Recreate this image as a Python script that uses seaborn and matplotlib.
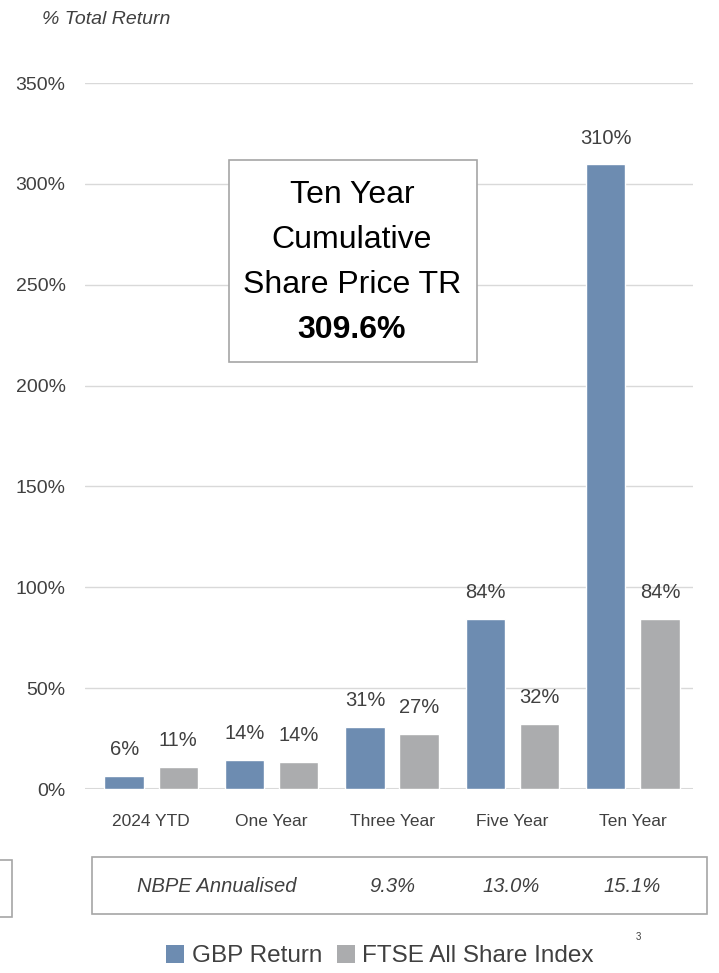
import matplotlib
matplotlib.use("Agg")
import matplotlib.pyplot as plt
import seaborn as sns
import pandas as pd
from matplotlib import font_manager
from matplotlib.patches import Rectangle, Patch

categories = ["2024 YTD", "One Year", "Three Year", "Five Year", "Ten Year"]
gbp_return = [6.4, 14.3, 30.8, 84.3, 309.6]
ftse_return = [11.0, 13.6, 27.2, 32.4, 84.2]
series_names = ["GBP Return", "FTSE All Share Index"]
yticks = [0, 50, 100, 150, 200, 250, 300, 350]
annual_label = "NBPE Annualised"
annual_values = ["9.3%", "13.0%", "15.1%"]
box_lines = ["Ten Year", "Cumulative", "Share Price TR", "309.6%"]

sns.set_theme(style="white")
avail = {f.name for f in font_manager.fontManager.ttflist}
narrow = "Liberation Sans Narrow" if "Liberation Sans Narrow" in avail else "Liberation Sans"
plt.rcParams["font.family"] = [narrow, "DejaVu Sans"]

TXT = "#404040"
C_GBP = "#6D8CB1"
C_FTSE = "#ABACAE"

df = pd.DataFrame({
    "Period": categories * 2,
    "Return": gbp_return + ftse_return,
    "Series": [series_names[0]] * len(categories) + [series_names[1]] * len(categories),
})

W, H = 719, 973
fig = plt.figure(figsize=(W / 100, H / 100), dpi=100)
ax = fig.add_axes([85 / W, 1 - 789 / H, (693 - 85) / W, (789 - 83) / H])

sns.barplot(data=df, x="Period", y="Return", hue="Series", order=categories,
            hue_order=series_names, palette=[C_GBP, C_FTSE], width=0.9, gap=0.27,
            ax=ax, legend=False, saturation=1)

ax.set_ylim(0, 350)
ax.set_xlim(-0.55, 4.5)
ax.set_yticks(yticks)
ax.set_yticklabels([f"{v}%" for v in yticks], fontsize=14, color=TXT)
ax.tick_params(axis="x", labelsize=12.5, labelcolor=TXT, length=0, pad=18)
ax.tick_params(axis="y", length=0, pad=14)
for lbl in ax.get_yticklabels():
    lbl.set_horizontalalignment("right")
ax.set_xlabel("")
ax.set_ylabel("")
for v in yticks[1:]:
    ax.axhline(v, color="#D9D9D9", lw=1, zorder=0)
ax.axhline(0, color="#D9D9D9", lw=1.5, zorder=0)
for s in ax.spines.values():
    s.set_visible(False)

for cont in ax.containers:
    ax.bar_label(cont, labels=[f"{v:.0f}%" for v in cont.datavalues],
                 padding=12, fontsize=14.5, color=TXT)

fig.text(42 / W, 1 - 19 / H, "% Total Return", fontsize=14, style="italic",
         color=TXT, ha="left", va="center")

# Annotation box
fig.patches.append(Rectangle((229 / W, 1 - 362 / H), (477 - 229) / W, (362 - 160) / H,
                             transform=fig.transFigure, fill=True, facecolor="white",
                             edgecolor="#A6A6A6", lw=1.2, zorder=5))
ys = [195, 240, 285, 330]
for i, (t, y) in enumerate(zip(box_lines, ys)):
    fig.text(352 / W, 1 - y / H, t, fontsize=23, color="black", ha="center", va="center",
             fontweight="bold" if i == 3 else "normal", zorder=6)

# Annualised table
fig.patches.append(Rectangle((92 / W, 1 - 914 / H), (707 - 92) / W, (914 - 857) / H,
                             transform=fig.transFigure, fill=False,
                             edgecolor="#A6A6A6", lw=1.2))
fig.patches.append(Rectangle((-5 / W, 1 - 917 / H), 17 / W, (917 - 860) / H,
                             transform=fig.transFigure, fill=False,
                             edgecolor="#A6A6A6", lw=1.2))
fig.text(217 / W, 1 - 887 / H, annual_label, fontsize=14.5, style="italic", color=TXT,
         ha="center", va="center")
for x, v in zip([392, 511, 632], annual_values):
    fig.text(x / W, 1 - 887 / H, v, fontsize=14.5, style="italic", color=TXT,
             ha="center", va="center")

# Legend
handles = [Patch(facecolor=C_GBP, edgecolor="none"), Patch(facecolor=C_FTSE, edgecolor="none")]
fig.legend(handles, series_names, loc="center", bbox_to_anchor=(380 / W, 1 - 956 / H),
           ncol=2, frameon=False, fontsize=17.5, handlelength=0.75, handleheight=0.75,
           handletextpad=0.3, columnspacing=0.6, labelcolor=TXT)
fig.text(638 / W, 1 - 937 / H, "3", fontsize=7, color=TXT, ha="center", va="center")

fig.savefig("out.png", dpi=100)
